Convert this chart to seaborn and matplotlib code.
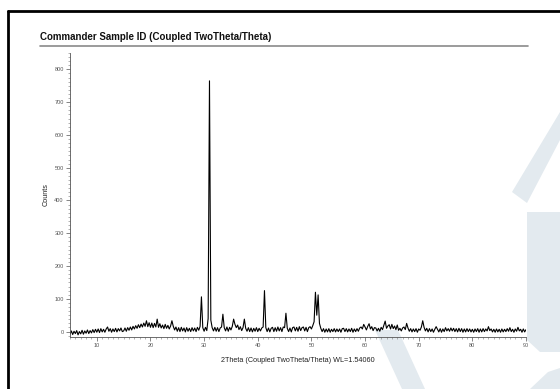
import numpy as np
import matplotlib
matplotlib.use("Agg")
import matplotlib.pyplot as plt
import seaborn as sns
from matplotlib.ticker import MultipleLocator
from matplotlib.patches import Polygon
from matplotlib.lines import Line2D

# diffractogram sampled every 0.25 deg, 5..90 deg
two_theta = np.arange(5.0, 90.001, 0.25)
counts = [
    # 5.00 - 9.75
    -8, 2, -9, 1, -6, 3, -10, 0, -7, 4, -8, 2, -5, 5, -6, 3, -4, 6, -3, 7,
    # 10.00 - 14.75
    -2, 8, -3, 9, -1, 7, -2, 8, 14, 1, 9, -2, 8, 0, 10, -1, 9, 2, 11, 0,
    # 15.00 - 19.75
    2, 11, 1, 12, 4, 14, 5, 16, 8, 18, 10, 21, 12, 23, 14, 26, 16, 33, 15, 27,
    # 20.00 - 24.75
    13, 26, 12, 25, 14, 38, 13, 24, 11, 20, 9, 22, 10, 19, 8, 17, 33, 16, 5, 14,
    # 25.00 - 29.75
    1, 12, 0, 13, 2, 11, -1, 12, 1, 10, 0, 12, 2, 11, 0, 13, 4, 16, 106, 12,
    # 30.00 - 34.75
    1, 13, 3, 40, 765, 35, 12, 2, 13, 1, 12, 0, 11, 14, 53, 12, 2, 14, 1, 13,
    # 35.00 - 39.75
    5, 16, 38, 22, 12, 20, 6, 15, 3, 12, 38, 10, 1, 12, 0, 11, -1, 10, 1, 12,
    # 40.00 - 44.75
    0, 10, 2, 11, 14, 125, 12, 0, 11, -1, 10, 13, 0, 12, 1, 14, 2, 12, 0, 14,
    # 45.00 - 49.75
    12, 56, 10, 0, 11, -1, 12, 14, 2, 13, 1, 15, 3, 12, 14, 2, 13, 0, 12, 15,
    # 50.00 - 54.75
    8, 18, 30, 120, 50, 112, 25, 10, 0, 9, -2, 8, -1, 9, -2, 7, 0, 9, -1, 8,
    # 55.00 - 59.75
    0, 8, -2, 9, 10, 0, 9, -1, 8, 0, 10, -2, 8, 0, 9, 1, 11, 14, 8, 22,
    # 60.00 - 64.75
    14, 5, 16, 24, 8, 15, 3, 12, 11, 2, 10, 1, 13, 6, 19, 32, 10, 17, 21, 8,
    # 65.00 - 69.75
    22, 9, 17, 6, 20, 4, 10, 2, 11, 14, 6, 25, 11, 1, 9, -1, 8, 0, 9, -2,
    # 70.00 - 74.75
    8, 4, 14, 33, 13, 2, 10, -1, 9, 0, 8, -2, 7, 15, 7, -1, 9, -2, 8, 0,
    # 75.00 - 79.75
    12, 2, 9, 1, 11, 2, 10, 0, 9, -1, 10, 0, 9, -2, 8, -1, 9, 0, 8, -1,
    # 80.00 - 84.75
    7, -2, 8, 0, 9, -2, 8, -1, 9, 0, 8, 2, 15, 3, 8, -1, 7, -2, 8, -1,
    # 85.00 - 89.75, 90.00
    7, -2, 8, -1, 7, 0, 9, 1, 12, 0, 7, -2, 8, 1, 13, 2, 7, -2, 8, -1,
    6,
]

x_ticks = [10, 20, 30, 40, 50, 60, 70, 80, 90]
y_ticks = [0, 100, 200, 300, 400, 500, 600, 700, 800]

title = "Commander Sample ID (Coupled TwoTheta/Theta)"
x_label = "2Theta (Coupled TwoTheta/Theta) WL=1.54060"
y_label = "Counts"

sns.set_theme(style="white")
plt.rcParams["font.family"] = ["Liberation Sans", "DejaVu Sans"]

W, H = 560, 389
fig = plt.figure(figsize=(5.6, 3.89), dpi=100)

# faint watermark shapes behind everything
wm = "#e3eaef"
shapes = [
    [(512, 192), (527, 203), (560, 140), (560, 112)],
    [(527, 212), (560, 212), (560, 352), (540, 352), (527, 340)],
    [(375, 330), (398, 330), (425, 389), (402, 389)],
    [(530, 389), (548, 372), (560, 368), (560, 389)],
]
for pts in shapes:
    fig.add_artist(Polygon([(x / W, 1 - y / H) for x, y in pts], closed=True,
                           transform=fig.transFigure, facecolor=wm,
                           edgecolor="none", zorder=0))

ax = fig.add_axes([70 / W, 1 - 336.5 / H, (526 - 70) / W, (336.5 - 53) / H])
ax.patch.set_alpha(0)
sns.lineplot(x=two_theta, y=counts, color="black", linewidth=0.8, ax=ax)

ax.set_xlim(5, 90)
ax.set_ylim(-15, 850)
ax.set_xticks(x_ticks)
ax.set_yticks(y_ticks)
ax.xaxis.set_minor_locator(MultipleLocator(1))
ax.yaxis.set_minor_locator(MultipleLocator(12.5))

for s in ["top", "right"]:
    ax.spines[s].set_visible(False)
for s in ["left", "bottom"]:
    ax.spines[s].set_color("#555555")
    ax.spines[s].set_linewidth(0.6)

ax.tick_params(which="major", direction="out", length=3, width=0.5,
               labelsize=4, colors="#555555", pad=1.5)
ax.tick_params(which="minor", direction="out", length=1.5, width=0.4,
               colors="#777777")
ax.tick_params(axis="both", which="both", bottom=True, left=True)

ax.set_xlabel(x_label, fontsize=5.2, color="#222222")
ax.xaxis.set_label_coords(0.5, -0.072)
ax.set_ylabel(y_label, fontsize=5.2, color="#222222")
ax.yaxis.set_label_coords(-0.044, 0.5)

fig.text(40 / W, 1 - 40.5 / H, title, fontsize=7, fontweight="bold",
         va="baseline", ha="left", color="#111111")
fig.add_artist(Line2D([40 / W, 528 / W], [1 - 46 / H, 1 - 46 / H],
                      color="#8a8a8a", linewidth=1.2))

# outer frame (top and left edges)
fig.add_artist(Line2D([8 / W, 1], [1 - 11 / H, 1 - 11 / H], color="black", linewidth=2))
fig.add_artist(Line2D([8 / W, 8 / W], [0, 1 - 11 / H], color="black", linewidth=2))

fig.savefig("out.png", dpi=100)
